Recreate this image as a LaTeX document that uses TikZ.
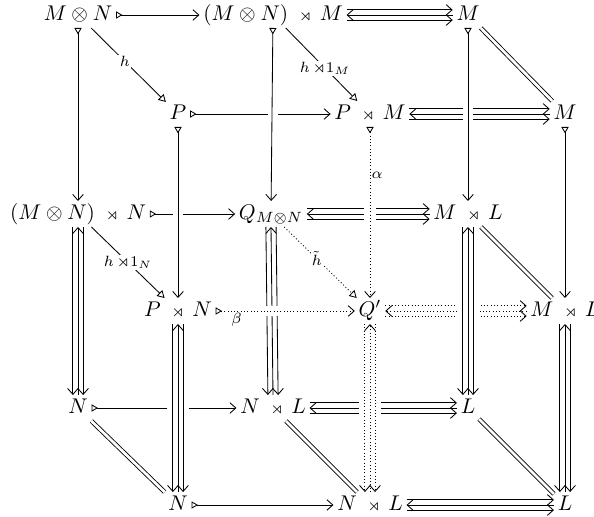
\documentclass[tikz,border=0pt]{standalone}
\usepackage{amssymb}
\usetikzlibrary{arrows.meta}
\newcommand{\srt}{\mathbin{\;\scriptstyle\rtimes\,}}
\newcommand{\sot}{\mathbin{\otimes}}
\begin{document}
\begin{tikzpicture}[x=0.47pt,y=-0.47pt,
  every node/.style={inner sep=1.6pt,text height=1.6ex,text depth=0.4ex},
  lbl/.style={font=\scriptsize,inner sep=0.6pt,text height=,text depth=},
  lblw/.style={lbl,fill=white},
  mono/.style={{Triangle[open,reversed,length=3pt,width=3.4pt]}-{Straight Barb[length=2.8pt,width=5pt]}},
  tri/.style={-{Triangle[open,length=3.4pt,width=3.8pt]}},
  hd/.style={-{Straight Barb[length=2.8pt,width=5pt]}},
  dd/.style={dash pattern=on 0.45pt off 1.1pt},
  eq/.style={double,double distance=1.3pt},
  line width=0.4pt]
\useasboundingbox (0,0) rectangle (594,517);
% nodes
\node (A1) at (78,15) {$M \sot N$};
\node (A2) at (273,15) {$(M\otimes N)\srt M$};
\node (A3) at (468,15) {$M$};
\node (B1) at (178,114) {$P$};
\node (B2) at (370,114) {$P\srt M$};
\node (B3) at (565,114) {$M$};
\node (C1) at (78,214) {$(M\otimes N)\srt N$};
\node (C2) at (271,214) {$Q_{M\otimes N}$};
\node (C3) at (468,214) {$M\srt L$};
\node (D1) at (178,311) {$P\srt N$};
\node (D2) at (370,311) {$Q'$};
\node (D3) at (565,311) {$M\srt L$};
\node (E1) at (78,408) {$N$};
\node (E2) at (273,408) {$N\srt L$};
\node (E3) at (468,408) {$L$};
\node (F1) at (178,505) {$N$};
\node (F2) at (370,505) {$N\srt L$};
\node (F3) at (565,505) {$L$};
% horizontal monos
\draw[mono] (A1) -- (A2);
\draw[mono] (B1) -- (B2);
\draw[mono] (C1) -- (C2);
\draw[mono] (E1) -- (E2);
\draw[mono] (F1) -- (F2);
% vertical monos
\draw[mono] (A1) -- (C1);
\draw[mono] (B3) -- (D3);
% horizontal triples
\foreach \X/\Y in {A2/A3,B2/B3,C2/C3,E2/E3,F2/F3}{
  \draw[hd] ([yshift=2.4pt]\X.east) -- ([yshift=2.4pt]\Y.west);
  \draw[hd] ([yshift=-2.4pt]\X.east) -- ([yshift=-2.4pt]\Y.west);
  \draw[hd] (\Y.west) -- (\X.east);
}
\draw[hd,dd] ([yshift=2.4pt]D2.east) -- ([yshift=2.4pt]D3.west);
\draw[hd,dd] ([yshift=-2.4pt]D2.east) -- ([yshift=-2.4pt]D3.west);
\draw[hd,dd] (D3.west) -- (D2.east);
% vertical triples (under)
\foreach \X/\Y in {C1/E1,C2/E2}{
  \draw[hd] ([xshift=-2.4pt]\X.south) -- ([xshift=-2.4pt]\Y.north);
  \draw[hd] ([xshift=2.4pt]\X.south) -- ([xshift=2.4pt]\Y.north);
  \draw[hd] (\Y.north) -- (\X.south);
}
\draw[hd] ([xshift=-2.4pt]D3.south) -- ([xshift=-2.4pt]F3.north);
\draw[hd] ([xshift=2.4pt]D3.south) -- ([xshift=2.4pt]F3.north);
\draw[hd] (F3.north) -- (D3.south);
% diagonals
\draw[eq] (A3) -- (B3);
\draw[eq] (C3) -- (D3);
\draw[eq] (E1) -- (F1);
\draw[eq] (E2) -- (F2);
\draw[eq] (E3) -- (F3);
\draw[tri] (A1) -- node[lblw,pos=.45] {$h$} (B1);
\draw[tri] (A2) -- node[lblw,pos=.55] {$h\,{\rtimes}1_M$} (B2);
\draw[tri] (C1) -- node[lblw,pos=.5] {$h\,{\rtimes}1_N$} (D1);
\draw[tri,dd] (C2) -- node[lblw,pos=.45] {$\tilde h$} (D2);
% gaps
\fill[white] (B1 |- C1) ++(-5,-4) rectangle ++(10,8);
\fill[white] (B2 |- C2) ++(-6,-10) rectangle ++(12,20);
\fill[white] (A3 |- B3) ++(-5,-10) rectangle ++(10,20);
\fill[white] (A2 |- B2) ++(-5,-4) rectangle ++(10,8);
\fill[white] (C2 |- D2) ++(-11,-5) rectangle ++(22,10);
\fill[white] (C3 |- D3) ++(-11,-10) rectangle ++(22,20);
\fill[white] (D1 |- E1) ++(-11,-4) rectangle ++(22,8);
\fill[white] (D2 |- E2) ++(-11,-10) rectangle ++(22,20);
% over lines
\draw[mono] (B1) -- (D1);
\draw[mono,dd] (B2) -- node[lbl,pos=.28,right] {$\alpha$} (D2);
\draw[mono] (A2) -- (C2);
\draw[mono] (A3) -- (C3);
\draw[mono,dd] (D1) -- node[lbl,pos=.15,below] {$\beta$} (D2);
\draw[hd] ([xshift=-2.4pt]C3.south) -- ([xshift=-2.4pt]E3.north);
\draw[hd] ([xshift=2.4pt]C3.south) -- ([xshift=2.4pt]E3.north);
\draw[hd] (E3.north) -- (C3.south);
\draw[hd] ([xshift=-2.4pt]D1.south) -- ([xshift=-2.4pt]F1.north);
\draw[hd] ([xshift=2.4pt]D1.south) -- ([xshift=2.4pt]F1.north);
\draw[hd] (F1.north) -- (D1.south);
\draw[hd,dd] ([xshift=-2.4pt]D2.south) -- ([xshift=-2.4pt]F2.north);
\draw[hd,dd] ([xshift=2.4pt]D2.south) -- ([xshift=2.4pt]F2.north);
\draw[hd,dd] (F2.north) -- (D2.south);
\end{tikzpicture}
\end{document}
